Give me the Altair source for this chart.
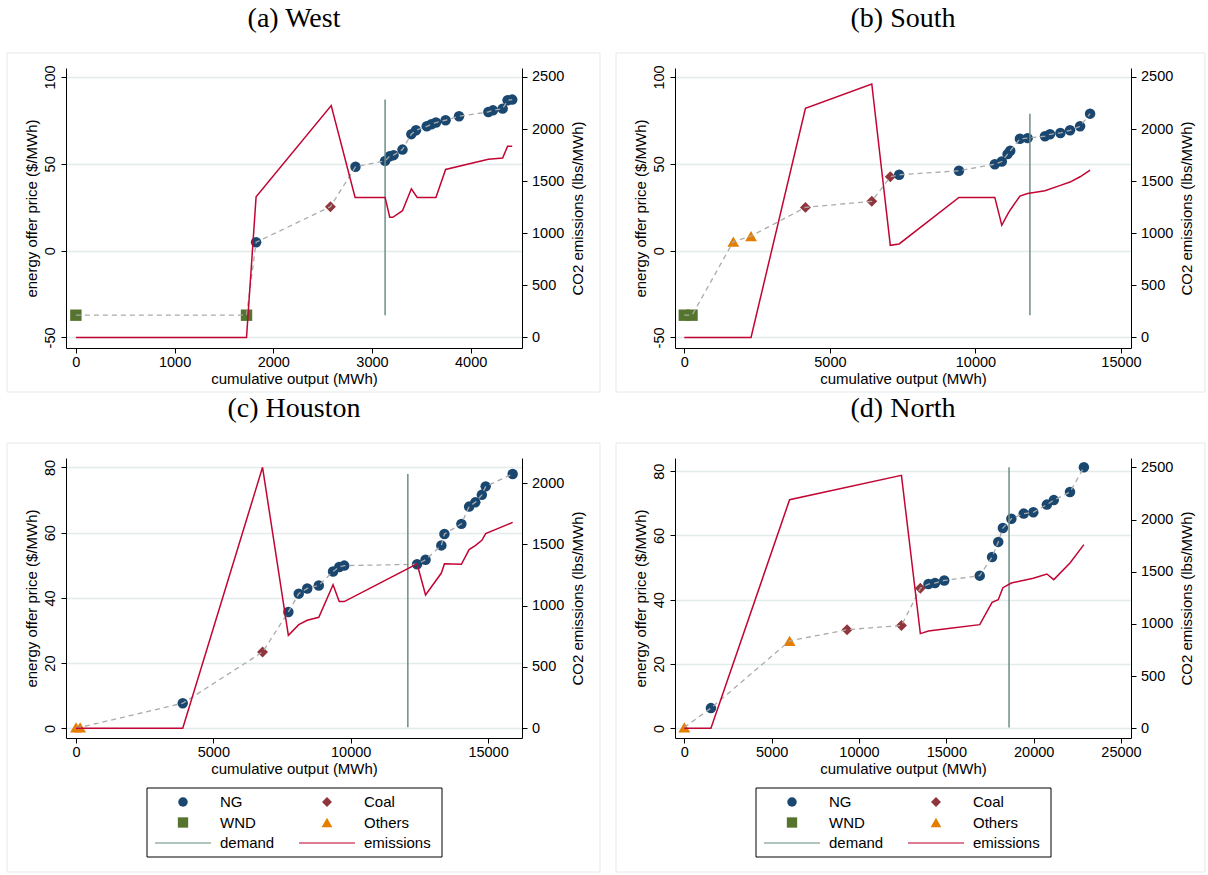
import altair as alt
import pandas as pd

# Fuel categories and their marker styles
FUELS = ["NG", "Coal", "WND", "Others"]
FUEL_COLORS = ["#1a476f", "#90353b", "#55752f", "#e37e00"]
FUEL_SHAPES = ["circle", "diamond", "square", "triangle-up"]
FUEL_SIZES = [110, 140, 100, 130]

# ---- West ----
west_q = [0, 1729, 1826, 2579, 2833, 3133, 3180, 3219, 3309, 3399, 3446,
          3555, 3602, 3648, 3746, 3882, 4179, 4226, 4324, 4374, 4421]
west_p = [-37.2, -37.2, 4.8, 25.3, 48.3, 51.7, 54.4, 55.0, 58.2, 67.1, 69.3,
          71.6, 72.8, 73.8, 75.1, 77.4, 79.9, 80.8, 81.8, 86.6, 87.0]
west_f = ["WND", "WND", "NG", "Coal"] + ["NG"] * 17
west_eq = [0, 1729, 1826, 2587, 2829, 3133, 3180, 3211, 3309, 3399, 3458,
           3648, 3746, 4179, 4324, 4374, 4421]
west_ey = [0, 0, 1350, 2225, 1344, 1344, 1153, 1153, 1216, 1427, 1344,
           1344, 1612, 1711, 1721, 1836, 1836]
west_demand = 3133

# ---- South ----
south_q = [0, 265, 1683, 2292, 4161, 6440, 7076, 7380, 9434, 10666, 10905,
           11104, 11196, 11528, 11793, 12389, 12561, 12919, 13250, 13595, 13939]
south_p = [-37.2, -37.2, 5.2, 8.4, 24.9, 28.4, 42.5, 43.7, 46.0, 49.8, 51.3,
           55.6, 57.5, 64.4, 64.8, 65.9, 67.0, 67.8, 69.3, 71.6, 78.9]
south_f = ["WND", "WND", "Others", "Others", "Coal", "Coal", "Coal"] + ["NG"] * 14
south_eq = [0, 2292, 4161, 6440, 7076, 7380, 9434, 10666, 10905, 11104, 11196,
            11528, 11793, 12389, 12919, 13250, 13595, 13939]
south_ey = [0, 0, 2200, 2433, 884, 897, 1344, 1344, 1076, 1180, 1223,
            1357, 1382, 1408, 1459, 1491, 1542, 1606]
south_demand = 11872

# ---- Houston ----
hou_q = [0, 150, 3886, 6791, 7731, 8109, 8418, 8839, 9358, 9582, 9765,
         12417, 12725, 13300, 13413, 14030, 14311, 14535, 14774, 14914, 15896]
hou_p = [0.3, 0.3, 7.7, 23.4, 35.7, 41.3, 42.9, 43.8, 48.1, 49.5, 49.9,
         50.3, 51.7, 56.1, 59.6, 62.7, 68.0, 69.3, 71.6, 74.2, 78.0]
hou_f = ["Others", "Others", "NG", "Coal"] + ["NG"] * 17
hou_eq = [0, 3886, 6791, 7731, 8109, 8418, 8839, 9358, 9582, 9765, 12417,
          12725, 13300, 13413, 14030, 14311, 14535, 14774, 14914, 15896]
hou_ey = [0, 0, 2128, 758, 845, 881, 905, 1171, 1033, 1033, 1342,
          1087, 1266, 1342, 1337, 1457, 1490, 1533, 1587, 1679]
hou_demand = 12080

# ---- North ----
north_q = [0, 1524, 6028, 9318, 12431, 13513, 13977, 14352, 14882, 16913,
           17620, 17973, 18238, 18724, 19430, 19982, 20755, 21153, 22080, 22875]
north_p = [0.3, 6.3, 27.2, 30.7, 32.0, 43.6, 44.9, 45.2, 46.0, 47.5,
           53.3, 58.0, 62.3, 65.2, 66.8, 67.2, 69.6, 71.0, 73.5, 81.2]
north_f = ["Others", "NG", "Others", "Coal", "Coal", "Coal"] + ["NG"] * 14
north_eq = [0, 1524, 6028, 12431, 13513, 13977, 14882, 16913, 17620, 17973,
            18238, 18724, 19982, 20755, 21153, 22080, 22875]
north_ey = [0, 0, 2190, 2423, 907, 932, 951, 993, 1207, 1232,
            1347, 1392, 1437, 1478, 1424, 1584, 1759]
north_demand = 18591

# Legend entries (two columns, three rows)
legend_labels = ["NG", "Coal", "WND", "Others", "demand", "emissions"]
legend_colors = ["#1a476f", "#90353b", "#55752f", "#e37e00", "#6e8e84", "#c10534"]

PRICE_DASH = "#ababab"
DEMAND_COLOR = "#6e8e84"
EMIS_COLOR = "#c10534"
GRID_COLOR = "#e3ecec"
FRAME_COLOR = "#e4e9e9"

W, H = 456, 280
PLAIN_NUM = "'' + datum.value"


def legend_layers():
    """Boxed key drawn underneath the plot area."""
    n = len(legend_labels)
    df = pd.DataFrame({
        "label": legend_labels,
        "col": [i % 2 for i in range(n)],
        "row": [i // 2 for i in range(n)],
    })
    xs = alt.Scale(domain=[0, 1], range=[117, 261])
    ys = alt.Scale(domain=[0, 2], range=[344, 385])
    cs = alt.Scale(domain=legend_labels, range=legend_colors)
    base = alt.Chart(df).encode(
        x=alt.X("col:Q", scale=xs, axis=None),
        y=alt.Y("row:Q", scale=ys, axis=None),
    )
    box = alt.Chart(pd.DataFrame({"k": [0]})).mark_rect(
        fillOpacity=0, stroke="black", strokeWidth=1, clip=False
    ).encode(x=alt.value(81), x2=alt.value(376), y=alt.value(330), y2=alt.value(399))
    syms = base.transform_filter(
        alt.FieldOneOfPredicate(field="label", oneOf=FUELS)
    ).mark_point(filled=True, opacity=1, clip=False).encode(
        color=alt.Color("label:N", scale=cs, legend=None),
        shape=alt.Shape("label:N", scale=alt.Scale(domain=FUELS, range=FUEL_SHAPES), legend=None),
        size=alt.Size("label:N", scale=alt.Scale(domain=FUELS, range=[90, 115, 80, 110]), legend=None),
    )
    strokes = base.transform_filter(
        alt.FieldOneOfPredicate(field="label", oneOf=["demand", "emissions"])
    ).mark_tick(orient="horizontal", size=56, thickness=1.5, clip=False).encode(
        color=alt.Color("label:N", scale=cs, legend=None),
    )
    texts = base.mark_text(align="left", baseline="middle", dx=37, font="Liberation Sans",
                           fontSize=15, color="black", clip=False).encode(text="label:N")
    return alt.layer(box, syms, strokes, texts)


def panel(title, q, p, f, eq, ey, demand, xdom, xticks, ldom, lticks,
          rdom, rticks, frame_right, frame_bottom, with_legend=False):
    units = pd.DataFrame({"q": q, "p": p, "fuel": f})
    emis = pd.DataFrame({"q": eq, "e": ey})
    dem = pd.DataFrame({"q": [demand], "lo": [min(p)], "hi": [max(p)]})

    xs = alt.Scale(domain=xdom, nice=False, zero=False)
    ls = alt.Scale(domain=ldom, nice=False, zero=False)
    rs = alt.Scale(domain=rdom, nice=False, zero=False)

    x_axis = alt.Axis(values=xticks, labelExpr=PLAIN_NUM, title="cumulative output (MWh)",
                      grid=False, labelPadding=2.5, titlePadding=2)
    l_axis = alt.Axis(values=lticks, labelExpr=PLAIN_NUM, title="energy offer price ($/MWh)",
                      labelAngle=270, labelAlign="center", labelBaseline="bottom",
                      labelPadding=4, titlePadding=3, grid=True,
                      gridColor=GRID_COLOR, gridWidth=1.5)
    r_axis = alt.Axis(orient="right", values=rticks, labelExpr=PLAIN_NUM,
                      title="CO2 emissions (lbs/MWh)", titleAngle=270,
                      titleBaseline="top", labelPadding=4.5, titlePadding=7,
                      grid=False)

    frame = alt.Chart(pd.DataFrame({"k": [0]})).mark_rect(
        fillOpacity=0, stroke=FRAME_COLOR, strokeWidth=1, clip=False
    ).encode(x=alt.value(-59), x2=alt.value(frame_right),
             y=alt.value(-15), y2=alt.value(frame_bottom))

    pts = alt.Chart(units).mark_point(filled=True, opacity=1).encode(
        x=alt.X("q:Q", scale=xs, axis=x_axis),
        y=alt.Y("p:Q", scale=ls, axis=l_axis),
        color=alt.Color("fuel:N", scale=alt.Scale(domain=FUELS, range=FUEL_COLORS), legend=None),
        shape=alt.Shape("fuel:N", scale=alt.Scale(domain=FUELS, range=FUEL_SHAPES), legend=None),
        size=alt.Size("fuel:N", scale=alt.Scale(domain=FUELS, range=FUEL_SIZES), legend=None),
    )
    dash = alt.Chart(units).mark_line(color=PRICE_DASH, strokeDash=[5, 4], strokeWidth=1.3).encode(
        x=alt.X("q:Q", scale=xs, axis=x_axis),
        y=alt.Y("p:Q", scale=ls, axis=l_axis),
        order="q:Q",
    )
    rule = alt.Chart(dem).mark_rule(color=DEMAND_COLOR, strokeWidth=1.5).encode(
        x=alt.X("q:Q", scale=xs, axis=x_axis),
        y=alt.Y("lo:Q", scale=ls, axis=l_axis),
        y2="hi:Q",
    )
    line = alt.Chart(emis).mark_line(color=EMIS_COLOR, strokeWidth=1.5).encode(
        x=alt.X("q:Q", scale=xs, axis=x_axis),
        y=alt.Y("e:Q", scale=rs, axis=r_axis),
        order="q:Q",
    )
    plot = alt.layer(alt.layer(frame, pts, dash, rule), line).resolve_scale(y="independent")
    if with_legend:
        plot = alt.layer(plot, legend_layers()).resolve_scale(
            x="independent", y="independent", color="independent",
            shape="independent", size="independent",
        )
    return plot.properties(
        width=W, height=H,
        title=alt.Title(title, font="Liberation Serif", fontSize=28,
                        fontWeight="normal", color="black", offset=20),
    )


pa = panel("(a) West", west_q, west_p, west_f, west_eq, west_ey, west_demand,
           [-100, 4520], [0, 1000, 2000, 3000, 4000], [-56.1, 105.2], [-50, 0, 50, 100],
           [-102, 2586], [0, 500, 1000, 1500, 2000, 2500], 534, 324)
pb = panel("(b) South", south_q, south_p, south_f, south_eq, south_ey, south_demand,
           [-320, 15344], [0, 5000, 10000, 15000], [-56.1, 105.2], [-50, 0, 50, 100],
           [-102, 2586], [0, 500, 1000, 1500, 2000, 2500], 530, 324)
pc = panel("(c) Houston", hou_q, hou_p, hou_f, hou_eq, hou_ey, hou_demand,
           [-364, 16236], [0, 5000, 10000, 15000], [-2.96, 82.9], [0, 20, 40, 60, 80],
           [-79, 2204], [0, 500, 1000, 1500, 2000], 534, 414, with_legend=True)
pd_ = panel("(d) North", north_q, north_p, north_f, north_eq, north_ey, north_demand,
            [-533, 25573], [0, 5000, 10000, 15000, 20000, 25000], [-3.0, 84.1], [0, 20, 40, 60, 80],
            [-92.6, 2589], [0, 500, 1000, 1500, 2000, 2500], 530, 414, with_legend=True)

chart = alt.concat(
    pa, pb, pc, pd_, columns=2, spacing={"row": 110, "column": 153}, bounds="flush"
).resolve_scale(
    x="independent", y="independent", color="independent",
    shape="independent", size="independent",
).properties(
    padding={"left": 6, "top": 4, "right": 0, "bottom": 0},
    background="white",
).configure_view(stroke=None).configure_axis(
    labelFont="Liberation Sans", titleFont="Liberation Sans",
    labelFontSize=14.5, titleFontSize=15, titleFontWeight="normal",
    labelColor="black", titleColor="black",
    domainColor="black", tickColor="black", domainWidth=1, tickWidth=1, tickSize=5,
)

chart.save("out.html", embed_options={"renderer": "svg", "actions": False})
